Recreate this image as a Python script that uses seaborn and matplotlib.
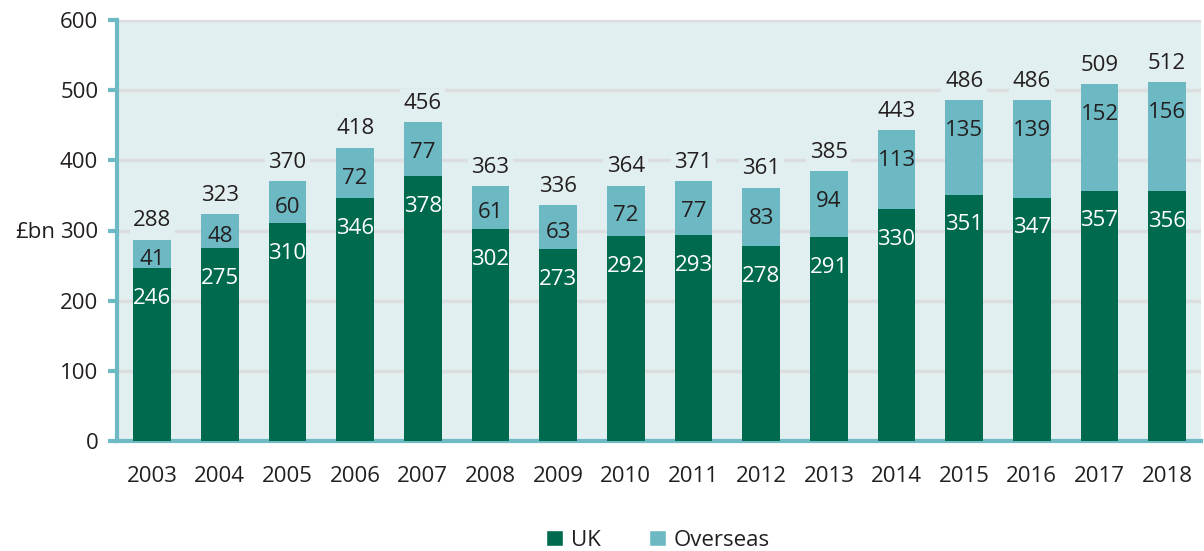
import matplotlib
matplotlib.use("Agg")
import matplotlib.pyplot as plt
import seaborn as sns
import pandas as pd
from matplotlib.patches import Patch

years = ["2003", "2004", "2005", "2006", "2007", "2008", "2009", "2010",
         "2011", "2012", "2013", "2014", "2015", "2016", "2017", "2018"]
uk = [246, 275, 310, 346, 378, 302, 273, 292, 293, 278, 291, 330, 351, 347, 357, 356]
overseas = [41, 48, 60, 72, 77, 61, 63, 72, 77, 83, 94, 113, 135, 139, 152, 156]
totals = [288, 323, 370, 418, 456, 363, 336, 364, 371, 361, 385, 443, 486, 486, 509, 512]

UK_C = "#006A4E"
OV_C = "#6DB9C3"
BG = "#E1EFF0"
GRID = "#DCDDDE"
SPINE = "#6DBAC5"
TXT = "#231F20"

sns.set_theme(style="white")
plt.rcParams["font.family"] = ["Open Sans", "DejaVu Sans"]

df = pd.DataFrame({"year": years, "uk": uk, "overseas": overseas, "total": totals})
df["stack"] = df["uk"] + df["overseas"]

fig = plt.figure(figsize=(12.04, 5.51), dpi=100)
ax = fig.add_axes([117/1204, 1-441/551, (1201-117)/1204, (441-20)/551])
ax.set_facecolor(BG)

sns.barplot(data=df, x="year", y="stack", color=OV_C, width=0.56, ax=ax,
            saturation=1, zorder=3, linewidth=0)
sns.barplot(data=df, x="year", y="uk", color=UK_C, width=0.56, ax=ax,
            saturation=1, zorder=4, linewidth=0)

ax.set_ylim(0, 600)
ax.set_xlim(-0.52, 15.5)
ax.set_yticks(range(0, 601, 100))
ax.yaxis.grid(True, color=GRID, linewidth=2.5, zorder=0)
ax.set_axisbelow(True)

for s in ["top", "right"]:
    ax.spines[s].set_visible(False)
for s in ["left", "bottom"]:
    ax.spines[s].set_color(SPINE)
    ax.spines[s].set_linewidth(3)

fs = 16
ax.tick_params(axis="y", which="both", left=True, length=6.5, width=3, color=SPINE,
               labelsize=fs, labelcolor=TXT, pad=7)
ax.tick_params(axis="x", bottom=False, labelsize=fs, labelcolor=TXT, pad=12)
ax.set_xlabel("")
ax.set_ylabel("")
fig.text(55/1204, 1-232/551, "£bn", ha="right", va="center", fontsize=fs, color=TXT)

half_cap = 5.6  # points, half the digit height
for i in range(len(years)):
    top = uk[i] + overseas[i]
    # UK value, white, near the top of the UK segment
    ax.annotate(str(uk[i]), (i, uk[i]), xytext=(0, -28 * 0.72 - half_cap),
                textcoords="offset points", ha="center", va="baseline",
                color="white", fontsize=fs, zorder=6)
    # Overseas value, dark, centred in short segments, near the top in tall ones
    ov_y = top - min(overseas[i] / 2 + 4, 40)
    ax.annotate(str(overseas[i]), (i, ov_y), xytext=(0, -half_cap),
                textcoords="offset points", ha="center", va="baseline",
                color=TXT, fontsize=fs, zorder=6)
    # total above the bar, on a background-coloured patch hiding the gridline
    ax.annotate(str(totals[i]), (i, top), xytext=(0, 21 * 0.72 - half_cap),
                textcoords="offset points", ha="center", va="baseline",
                color=TXT, fontsize=fs, zorder=6,
                bbox=dict(facecolor=BG, edgecolor="none", pad=2.5))

handles = [Patch(facecolor=UK_C, label="UK"), Patch(facecolor=OV_C, label="Overseas")]
fig.legend(handles=handles, loc="center", bbox_to_anchor=(0.5465, 1-540/551), ncol=2,
           frameon=False, fontsize=fs, handlelength=0.75, handleheight=0.75,
           columnspacing=2.2, handletextpad=0.35, labelcolor=TXT,
           borderpad=0.1)

fig.savefig("out.png", dpi=100)
